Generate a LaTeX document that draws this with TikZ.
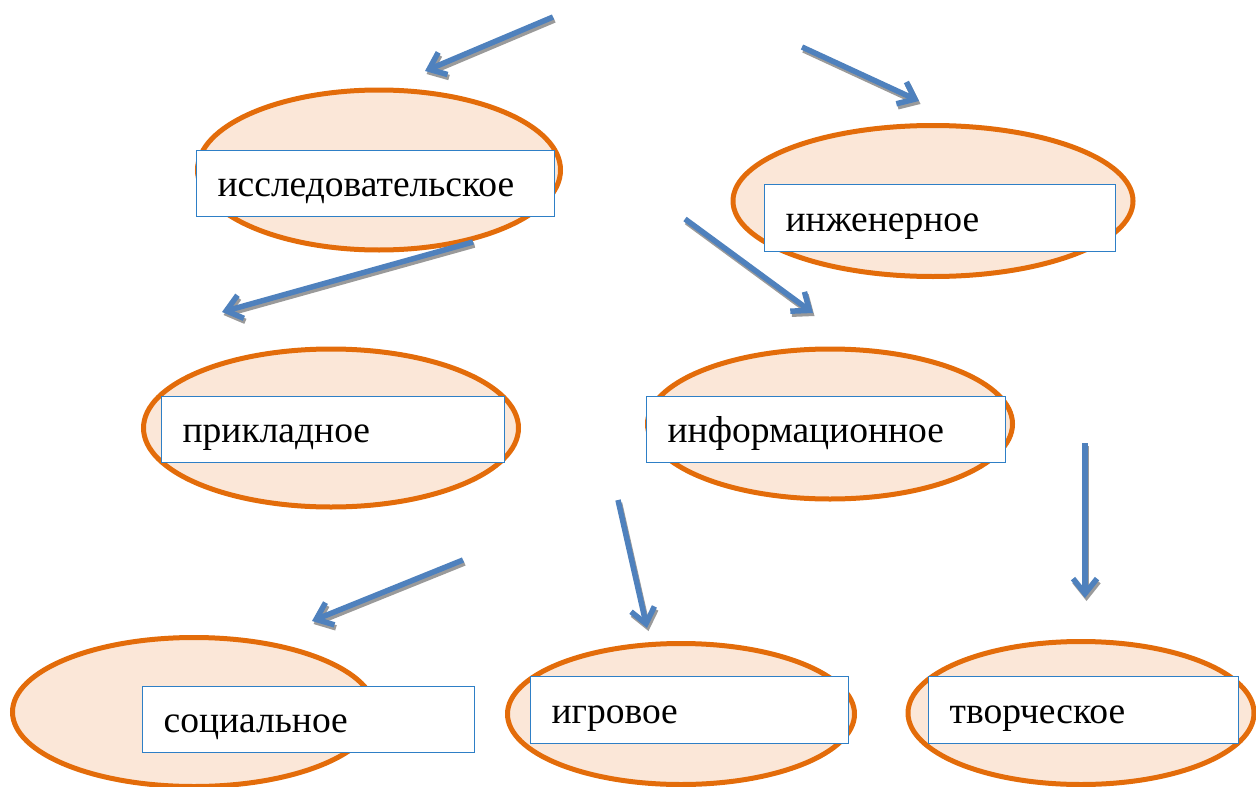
\documentclass[tikz,border=0pt]{standalone}
\usepackage{fontspec}
\setmainfont{Liberation Serif}
\usetikzlibrary{arrows.meta,shapes.geometric}
\definecolor{ellline}{HTML}{E36C0A}
\definecolor{ellfill}{HTML}{FBE7D8}
\definecolor{boxline}{HTML}{2E7FC6}
\definecolor{arrblue}{HTML}{4F81BD}
\definecolor{arrshadow}{HTML}{9A9A9A}
\tikzset{
  ell/.style={ellipse, draw=ellline, fill=ellfill, line width=5pt, inner sep=0pt},
  lbl/.style={rectangle, draw=boxline, fill=white, line width=1.3pt, anchor=north west,
     inner xsep=21pt, inner ysep=0pt, align=left, font=\fontsize{37.5}{40}\selectfont,
     text height=46pt, text depth=20pt},
  arrbase/.style={line width=5.5pt, -{Straight Barb[length=15pt,width=24pt,line width=5.5pt]}},
  arr/.style={arrbase, draw=arrblue},
  arrsh/.style={arrbase, draw=arrshadow}
}
\begin{document}
\begin{tikzpicture}[x=1pt,y=-1pt]
\useasboundingbox (0,0) rectangle (1256,787);
% ellipses
\node[ell, minimum width=363pt, minimum height=160pt] (e1) at (379,170) {};
\node[ell, minimum width=400pt, minimum height=151pt] (e2) at (933,201) {};
\node[ell, minimum width=375pt, minimum height=158pt] (e3) at (331,428) {};
\node[ell, minimum width=365pt, minimum height=150pt] (e4) at (830,424) {};
\node[ell, minimum width=363pt, minimum height=149pt] (e5) at (194,712) {};
\node[ell, minimum width=347pt, minimum height=141pt] (e6) at (681,714) {};
\node[ell, minimum width=346pt, minimum height=143pt] (e7) at (1081,713) {};
% boxes
\node[lbl, text width=316pt, minimum height=66pt] (b1) at (196,150) {исследовательское};
\node[lbl, text width=309pt, minimum height=67pt] (b2) at (764,184) {инженерное};
\node[lbl, text width=301pt, minimum height=66pt] (b3) at (161,396) {прикладное};
\node[lbl, text width=317pt, minimum height=66pt] (b4) at (646,396) {информационное};
\node[lbl, text width=290pt, minimum height=66pt] (b5) at (142,686) {социальное};
\node[lbl, text width=276pt, minimum height=67pt] (b6) at (530,676) {игровое};
\node[lbl, text width=268pt, minimum height=67pt] (b7) at (928,676) {творческое};
% arrow end points
\coordinate (a1s) at (553,17);  \coordinate (a1e) at (425,71);
\coordinate (a2s) at (802,47);  \coordinate (a2e) at (919,101);
\coordinate (a3s) at (473,242); \coordinate (a3e) at (222,312);
\coordinate (a4s) at (685,219); \coordinate (a4e) at (813,313);
\coordinate (a5s) at (463,560); \coordinate (a5e) at (312,621);
\coordinate (a6s) at (618,500); \coordinate (a6e) at (647,628);
\coordinate (a7s) at (1085,443); \coordinate (a7e) at (1085,598);
\foreach \i in {1,...,7}{
  \draw[arrsh] ([shift={(1.5,3)}]a\i s) -- ([shift={(1.5,3)}]a\i e);
  \draw[arr] (a\i s) -- (a\i e);
}
\end{tikzpicture}
\end{document}
